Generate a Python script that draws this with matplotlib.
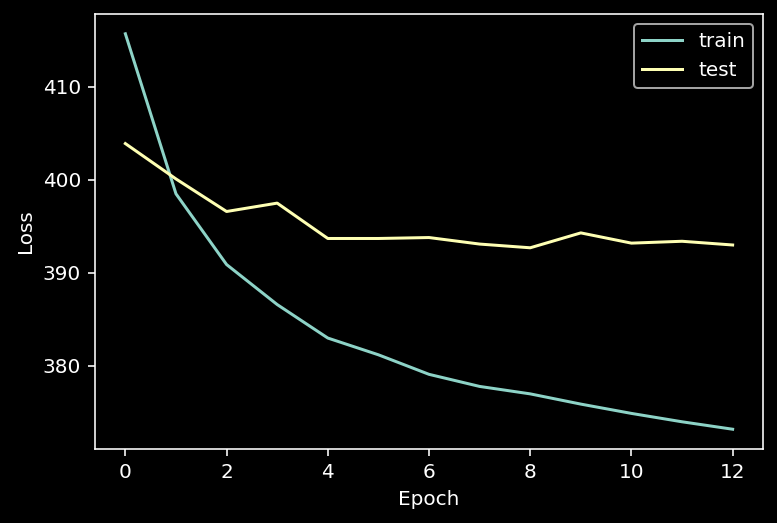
import matplotlib
matplotlib.use("Agg")
import matplotlib.pyplot as plt

plt.style.use("dark_background")

epochs = list(range(13))
train_loss = [415.7, 398.5, 390.9, 386.6, 383.0, 381.2, 379.1, 377.8, 377.0, 375.9, 374.9, 374.0, 373.2]
test_loss = [403.9, 400.1, 396.6, 397.5, 393.7, 393.7, 393.8, 393.1, 392.7, 394.3, 393.2, 393.4, 393.0]

dpi = 144
fig = plt.figure(figsize=(777 / dpi, 523 / dpi), dpi=dpi)
ax = fig.add_axes([95 / 777, 1 - 449 / 523, (763 - 95) / 777, (449 - 14) / 523])
ax.plot(epochs, train_loss, label="train")
ax.plot(epochs, test_loss, label="test")
ax.set_xlabel("Epoch")
ax.set_ylabel("Loss")
ax.legend(loc="upper right")
fig.savefig("out.png", dpi=dpi)
